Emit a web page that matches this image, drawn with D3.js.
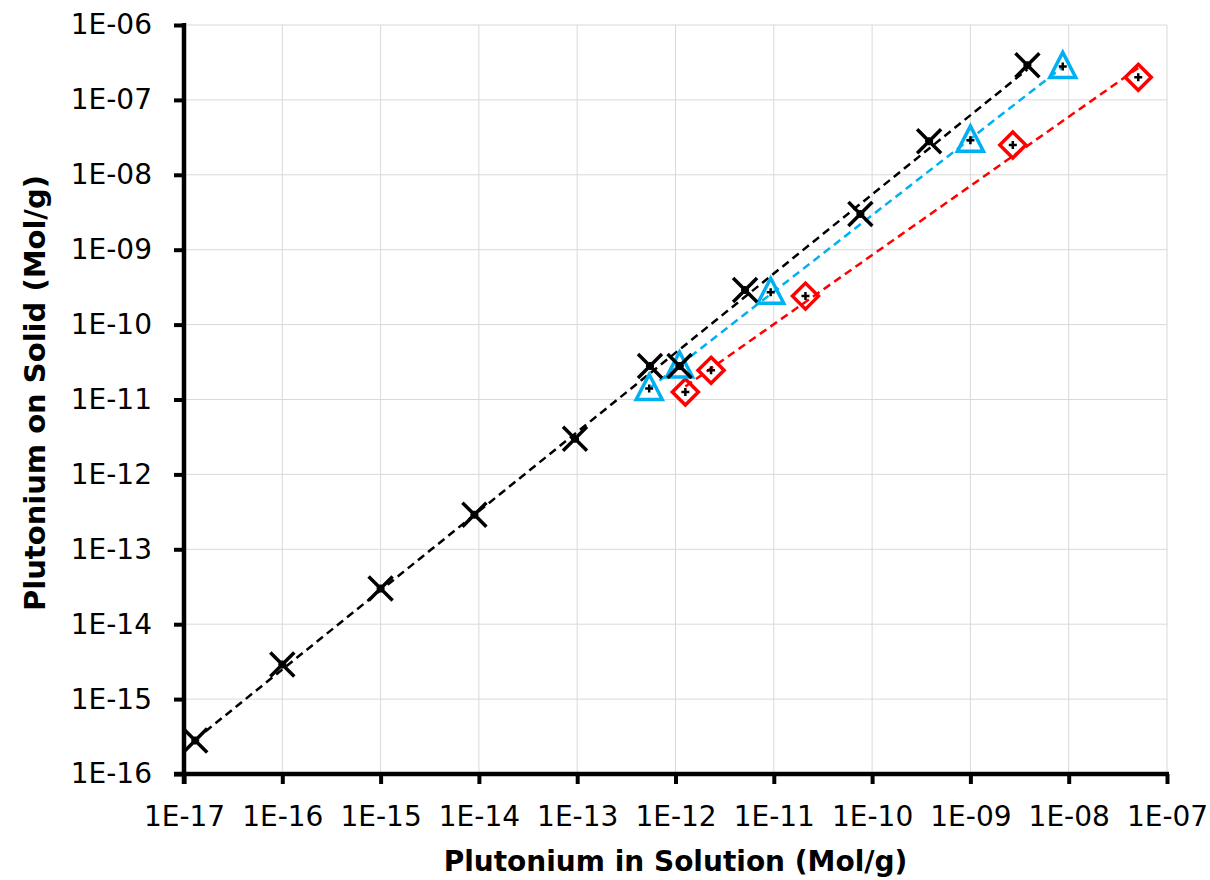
<!DOCTYPE html>
<html>
<head>
<meta charset="utf-8">
<script src="https://cdn.jsdelivr.net/npm/d3@7"></script>
<style>
  html, body { margin: 0; padding: 0; background: #fff; }
  svg { display: block; font-family: "DejaVu Sans", sans-serif; }
</style>
</head>
<body>
<svg id="chart" width="1210" height="880"></svg>
<script>
// Sorption isotherm data: Pu in solution (x) vs Pu on solid (y), mol/g
const blackX = [1.3e-17, 1.0e-16, 1.0e-15, 9.0e-15, 9.5e-14, 5.5e-13, 1.1e-12, 5.1e-12, 7.6e-11, 3.8e-10, 3.8e-9];
const blackY = [2.8e-16, 2.9e-15, 3.0e-14, 2.9e-13, 3.0e-12, 2.8e-11, 2.8e-11, 2.9e-10, 3.0e-9, 2.8e-8, 2.9e-7];

const blueX = [5.4e-13, 1.1e-12, 9.3e-12, 1.0e-9, 8.7e-9];
const blueY = [1.4e-11, 2.8e-11, 2.7e-10, 2.9e-8, 2.8e-7];

const redX = [1.26e-12, 2.3e-12, 2.1e-11, 2.7e-9, 5.1e-8];
const redY = [1.26e-11, 2.45e-11, 2.4e-10, 2.5e-8, 2.0e-7];

const xTicks = [1e-17, 1e-16, 1e-15, 1e-14, 1e-13, 1e-12, 1e-11, 1e-10, 1e-9, 1e-8, 1e-7];
const yTicks = [1e-16, 1e-15, 1e-14, 1e-13, 1e-12, 1e-11, 1e-10, 1e-9, 1e-8, 1e-7, 1e-6];

const xTitle = "Plutonium in Solution (Mol/g)";
const yTitle = "Plutonium on Solid (Mol/g)";

const svg = d3.select("#chart");
const plotLeft = 184, plotRight = 1167, plotTop = 25, plotBottom = 774;

const x = d3.scaleLog().domain([1e-17, 1e-7]).range([plotLeft, plotRight]);
const y = d3.scaleLog().domain([1e-16, 1e-6]).range([plotBottom, plotTop]);

const fmt = v => "1E-" + String(Math.round(-Math.log10(v))).padStart(2, "0");

// gridlines
svg.append("g").selectAll("line").data(xTicks).join("line")
  .attr("x1", d => x(d)).attr("x2", d => x(d))
  .attr("y1", plotTop).attr("y2", plotBottom)
  .attr("stroke", "#d9d9d9").attr("stroke-width", 1);
svg.append("g").selectAll("line").data(yTicks).join("line")
  .attr("x1", plotLeft).attr("x2", plotRight)
  .attr("y1", d => y(d)).attr("y2", d => y(d))
  .attr("stroke", "#d9d9d9").attr("stroke-width", 1);

// axes
const xAxis = d3.axisBottom(x).tickValues(xTicks).tickFormat(fmt).tickSize(10).tickPadding(22);
const yAxis = d3.axisLeft(y).tickValues(yTicks).tickFormat(fmt).tickSize(10).tickPadding(22);

const gx = svg.append("g").attr("transform", `translate(0,${plotBottom})`).call(xAxis);
const gy = svg.append("g").attr("transform", `translate(${plotLeft},0)`).call(yAxis);
[gx, gy].forEach(g => {
  g.select(".domain").remove();
  g.selectAll(".tick line").attr("stroke", "#000").attr("stroke-width", 4);
  g.selectAll(".tick text").attr("fill", "#000")
    .style("font-family", "'DejaVu Sans', sans-serif").style("font-size", "28px");
});
gx.selectAll(".tick text").attr("dy", "0.71em");

// axis lines
svg.append("line").attr("x1", plotLeft - 10).attr("x2", plotRight + 2)
  .attr("y1", plotBottom).attr("y2", plotBottom).attr("stroke", "#000").attr("stroke-width", 4.5);
svg.append("line").attr("x1", plotLeft).attr("x2", plotLeft)
  .attr("y1", plotTop - 2).attr("y2", plotBottom + 10).attr("stroke", "#000").attr("stroke-width", 4.5);

const series = [
  { xs: blackX, ys: blackY, color: "#000000", shape: "x" },
  { xs: blueX, ys: blueY, color: "#00B0F0", shape: "tri" },
  { xs: redX, ys: redY, color: "#FF0000", shape: "dia" }
];

// power-law trendline: least squares in log-log space, spanning the series' x range
function powerFit(xs, ys) {
  const lx = xs.map(Math.log10), ly = ys.map(Math.log10);
  const mx = d3.mean(lx), my = d3.mean(ly);
  const b = d3.sum(lx, (v, i) => (v - mx) * (ly[i] - my)) / d3.sum(lx, v => (v - mx) * (v - mx));
  const a = my - b * mx;
  const [x0, x1] = d3.extent(xs);
  return [x0, x1].map(v => [v, Math.pow(10, a + b * Math.log10(v))]);
}
const line = d3.line().x(d => x(d[0])).y(d => y(d[1]));
series.forEach(s => {
  svg.append("path").datum(powerFit(s.xs, s.ys)).attr("d", line)
    .attr("fill", "none").attr("stroke", s.color)
    .attr("stroke-width", 2.5).attr("stroke-dasharray", "8,5");
});

// markers with small error bars
const markerPath = {
  x: "M-12,-12L12,12M-12,12L12,-12",
  tri: "M0,-14L13,11L-13,11Z",
  dia: "M0,-13L13,0L0,13L-13,0Z"
};
[series[2], series[1], series[0]].forEach(s => {
  const pts = s.xs.map((v, i) => [v, s.ys[i]]);
  const g = svg.append("g");
  const m = g.selectAll("g").data(pts).join("g")
    .attr("transform", d => `translate(${x(d[0])},${y(d[1])})`);
  m.append("path").attr("d", "M-4,0L4,0M0,-4L0,4")
    .attr("stroke", "#000").attr("stroke-width", 2.5).attr("fill", "none");
  m.append("path").attr("d", markerPath[s.shape])
    .attr("fill", "none").attr("stroke", s.color).attr("stroke-width", 3.5);
});

// axis titles
svg.append("text").attr("x", (plotLeft + plotRight) / 2).attr("y", 871)
  .attr("text-anchor", "middle").style("font-weight", "bold").style("font-size", "28px")
  .text(xTitle);
svg.append("text").attr("transform", `translate(45,393) rotate(-90)`)
  .attr("text-anchor", "middle").style("font-weight", "bold").style("font-size", "29px")
  .text(yTitle);
</script>
</body>
</html>
